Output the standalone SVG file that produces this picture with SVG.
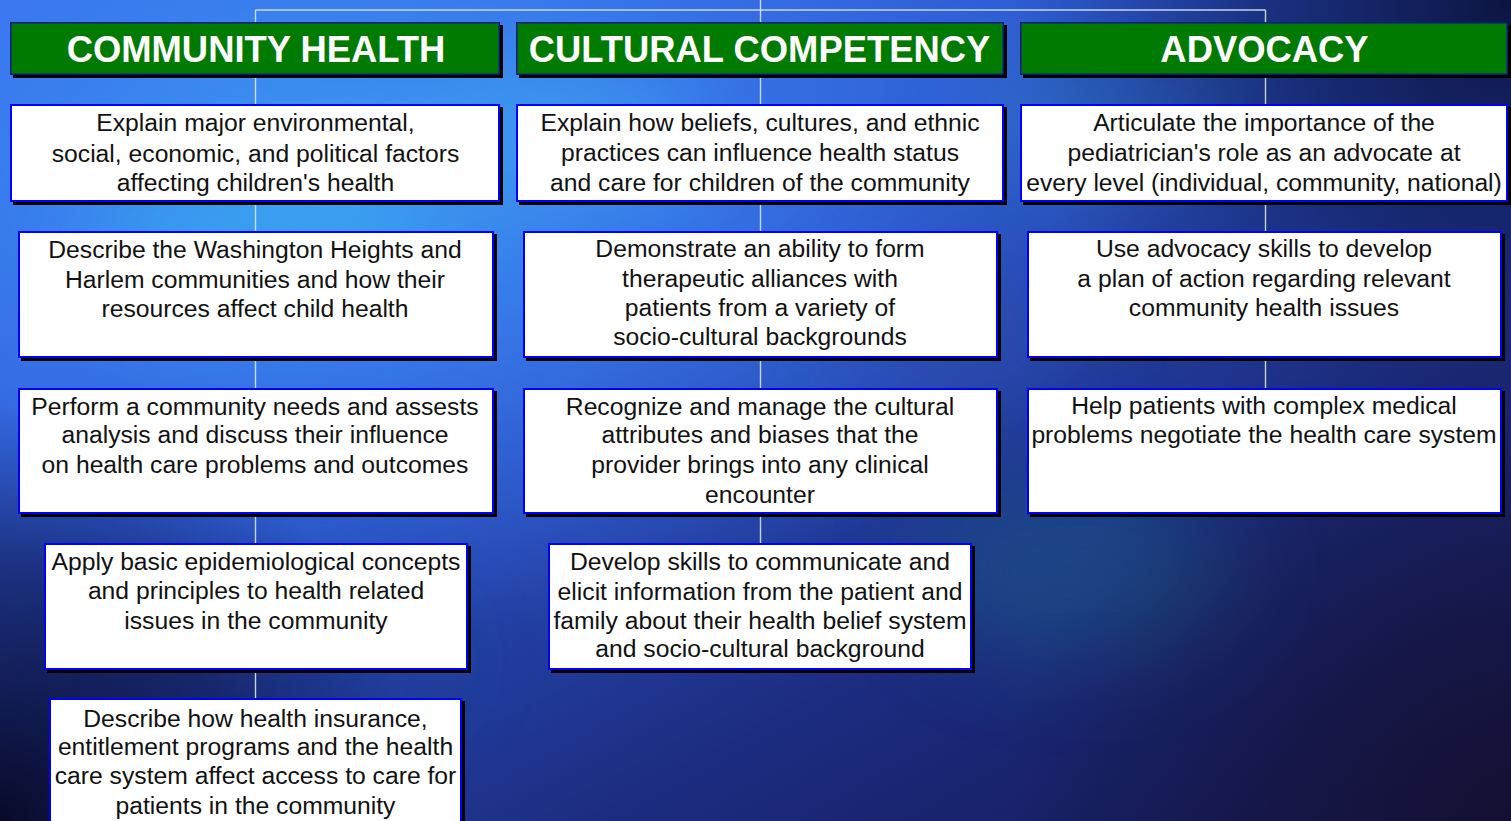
<svg xmlns="http://www.w3.org/2000/svg" width="1511" height="821" viewBox="0 0 1511 821">
  <defs>
    <style>
      .hdr { fill: #007a00; stroke: #0a1a80; stroke-width: 1.5; }
      .box { fill: #ffffff; stroke: #0000ff; stroke-width: 2; }
      .shadow { fill: #000000; }
      .hdr-text { font-family: "Liberation Sans", Arial, sans-serif; font-weight: bold; font-size: 36.4px; fill: #ffffff; text-anchor: middle; }
      .txt { font-family: "Liberation Sans", Arial, sans-serif; font-size: 24.7px; fill: #111111; text-anchor: middle; }
      .link { stroke: #d6e4fa; stroke-width: 1.4; fill: none; opacity: 0.9; }
    </style>
    <linearGradient id="bgBase" x1="0" y1="0" x2="1" y2="1">
      <stop offset="0" stop-color="#3b72f0"/>
      <stop offset="0.35" stop-color="#2c5ad0"/>
      <stop offset="0.7" stop-color="#1c2c80"/>
      <stop offset="1" stop-color="#141650"/>
    </linearGradient>
    <radialGradient id="glowMain" cx="330" cy="170" r="620" gradientUnits="userSpaceOnUse" gradientTransform="translate(330 170) scale(1.35 0.75) translate(-330 -170)">
      <stop offset="0" stop-color="#3ea0f2" stop-opacity="0.95"/>
      <stop offset="0.45" stop-color="#3a7ef0" stop-opacity="0.7"/>
      <stop offset="1" stop-color="#3a6ae8" stop-opacity="0"/>
    </radialGradient>
    <radialGradient id="darkTR" cx="1511" cy="0" r="500" gradientUnits="userSpaceOnUse">
      <stop offset="0" stop-color="#0c1440" stop-opacity="1"/>
      <stop offset="0.5" stop-color="#122060" stop-opacity="0.65"/>
      <stop offset="1" stop-color="#1a2c80" stop-opacity="0"/>
    </radialGradient>
    <radialGradient id="darkBL" cx="0" cy="821" r="420" gradientUnits="userSpaceOnUse">
      <stop offset="0" stop-color="#080a28" stop-opacity="1"/>
      <stop offset="0.6" stop-color="#10154a" stop-opacity="0.6"/>
      <stop offset="1" stop-color="#141a60" stop-opacity="0"/>
    </radialGradient>
    <radialGradient id="darkBR" cx="1511" cy="821" r="500" gradientUnits="userSpaceOnUse">
      <stop offset="0" stop-color="#141030" stop-opacity="0.9"/>
      <stop offset="1" stop-color="#141030" stop-opacity="0"/>
    </radialGradient>
    <filter id="soft" x="-50%" y="-50%" width="200%" height="200%">
      <feGaussianBlur stdDeviation="45"/>
    </filter>
  </defs>

  <!-- backdrop -->
  <g id="background">
    <rect x="0" y="0" width="1511" height="821" fill="url(#bgBase)"/>
    <rect x="0" y="0" width="1511" height="821" fill="url(#glowMain)"/>
    <g filter="url(#soft)" opacity="0.55">
      <ellipse cx="560" cy="130" rx="140" ry="60" fill="#3fa8f0"/>
      <ellipse cx="260" cy="250" rx="170" ry="70" fill="#38b0f0"/>
      <ellipse cx="1120" cy="120" rx="150" ry="60" fill="#2d7ac0"/>
      <ellipse cx="1080" cy="570" rx="160" ry="90" fill="#1e5a8a"/>
      <ellipse cx="960" cy="330" rx="120" ry="70" fill="#2a4eb0"/>
      <ellipse cx="250" cy="660" rx="200" ry="70" fill="#1c3a90"/>
    </g>
    <rect x="0" y="0" width="1511" height="821" fill="url(#darkTR)"/>
    <rect x="0" y="0" width="1511" height="821" fill="url(#darkBL)"/>
    <rect x="0" y="0" width="1511" height="821" fill="url(#darkBR)"/>
  </g>

  <!-- tree lines -->
  <g id="connectors">
    <path class="link" d="M760.5 0 V543"/>
    <path class="link" d="M255.5 10 H1265.5"/>
    <path class="link" d="M255.5 10 V698"/>
    <path class="link" d="M1265.5 10 V388"/>
  </g>

  <!-- column headers -->
  <g id="hdr-community-health">
    <rect class="shadow" x="13" y="25" width="490" height="53"/>
    <rect class="hdr" x="10.75" y="22.75" width="488.5" height="51.5"/>
    <text class="hdr-text" x="256" y="62">COMMUNITY HEALTH</text>
  </g>
  <g id="hdr-cultural-competency">
    <rect class="shadow" x="519" y="25" width="488" height="53"/>
    <rect class="hdr" x="516.75" y="22.75" width="486.5" height="51.5"/>
    <text class="hdr-text" x="759.5" y="62">CULTURAL COMPETENCY</text>
  </g>
  <g id="hdr-advocacy">
    <rect class="shadow" x="1023" y="25" width="488" height="53"/>
    <rect class="hdr" x="1020.75" y="22.75" width="486.5" height="51.5"/>
    <text class="hdr-text" x="1264.5" y="62">ADVOCACY</text>
  </g>

  <!-- community health column -->
  <g id="ch-1">
    <rect class="shadow" x="13" y="107" width="490" height="98"/>
    <rect class="box" x="11" y="105" width="488" height="96"/>
    <text class="txt"><tspan x="255.5" y="131">Explain major environmental,</tspan><tspan x="255.5" y="161.5">social, economic, and political factors</tspan><tspan x="255.5" y="191">affecting children's health</tspan></text>
  </g>
  <g id="ch-2">
    <rect class="shadow" x="21" y="234" width="476" height="127"/>
    <rect class="box" x="19" y="232" width="474" height="125"/>
    <text class="txt"><tspan x="255" y="258">Describe the Washington Heights and</tspan><tspan x="255" y="288">Harlem communities and how their</tspan><tspan x="255" y="317">resources affect child health</tspan></text>
  </g>
  <g id="ch-3">
    <rect class="shadow" x="21" y="391" width="476" height="126"/>
    <rect class="box" x="19" y="389" width="474" height="124"/>
    <text class="txt"><tspan x="255" y="414.5">Perform a community needs and assests</tspan><tspan x="255" y="443">analysis and discuss their influence</tspan><tspan x="255" y="473">on health care problems and outcomes</tspan></text>
  </g>
  <g id="ch-4">
    <rect class="shadow" x="47" y="546" width="424" height="127"/>
    <rect class="box" x="45" y="544" width="422" height="125"/>
    <text class="txt"><tspan x="256" y="569.5">Apply basic epidemiological concepts</tspan><tspan x="256" y="599">and principles to health related</tspan><tspan x="256" y="628.5">issues in the community</tspan></text>
  </g>
  <g id="ch-5">
    <rect class="shadow" x="52" y="701" width="413" height="140"/>
    <rect class="box" x="50" y="699" width="411" height="140"/>
    <text class="txt"><tspan x="255.5" y="727">Describe how health insurance,</tspan><tspan x="255.5" y="755">entitlement programs and the health</tspan><tspan x="255.5" y="784">care system affect access to care for</tspan><tspan x="255.5" y="813.5">patients in the community</tspan></text>
  </g>

  <!-- cultural competency column -->
  <g id="cc-1">
    <rect class="shadow" x="519" y="107" width="488" height="98"/>
    <rect class="box" x="517" y="105" width="486" height="96"/>
    <text class="txt"><tspan x="760" y="131">Explain how beliefs, cultures, and ethnic</tspan><tspan x="760" y="161">practices can influence health status</tspan><tspan x="760" y="190.5">and care for children of the community</tspan></text>
  </g>
  <g id="cc-2">
    <rect class="shadow" x="526" y="234" width="475" height="127"/>
    <rect class="box" x="524" y="232" width="473" height="125"/>
    <text class="txt"><tspan x="760" y="257">Demonstrate an ability to form</tspan><tspan x="760" y="287">therapeutic alliances with</tspan><tspan x="760" y="316">patients from a variety of</tspan><tspan x="760" y="345">socio-cultural backgrounds</tspan></text>
  </g>
  <g id="cc-3">
    <rect class="shadow" x="526" y="391" width="475" height="126"/>
    <rect class="box" x="524" y="389" width="473" height="124"/>
    <text class="txt"><tspan x="760" y="414.5">Recognize and manage the cultural</tspan><tspan x="760" y="443">attributes and biases that the</tspan><tspan x="760" y="473">provider brings into any clinical</tspan><tspan x="760" y="502.5">encounter</tspan></text>
  </g>
  <g id="cc-4">
    <rect class="shadow" x="551" y="546" width="424" height="127"/>
    <rect class="box" x="549" y="544" width="422" height="125"/>
    <text class="txt"><tspan x="760" y="569.5">Develop skills to communicate and</tspan><tspan x="760" y="599.5">elicit information from the patient and</tspan><tspan x="760" y="628.5">family about their health belief system</tspan><tspan x="760" y="657">and socio-cultural background</tspan></text>
  </g>

  <!-- advocacy column -->
  <g id="adv-1">
    <rect class="shadow" x="1023" y="107" width="488" height="98"/>
    <rect class="box" x="1021" y="105" width="486" height="96"/>
    <text class="txt"><tspan x="1264" y="131">Articulate the importance of the</tspan><tspan x="1264" y="161">pediatrician's role as an advocate at</tspan><tspan x="1264" y="191">every level (individual, community, national)</tspan></text>
  </g>
  <g id="adv-2">
    <rect class="shadow" x="1030" y="234" width="475" height="127"/>
    <rect class="box" x="1028" y="232" width="473" height="125"/>
    <text class="txt"><tspan x="1264" y="257">Use advocacy skills to develop</tspan><tspan x="1264" y="286.5">a plan of action regarding relevant</tspan><tspan x="1264" y="316">community health issues</tspan></text>
  </g>
  <g id="adv-3">
    <rect class="shadow" x="1030" y="391" width="475" height="126"/>
    <rect class="box" x="1028" y="389" width="473" height="124"/>
    <text class="txt"><tspan x="1264" y="414">Help patients with complex medical</tspan><tspan x="1264" y="443">problems negotiate the health care system</tspan></text>
  </g>
</svg>
